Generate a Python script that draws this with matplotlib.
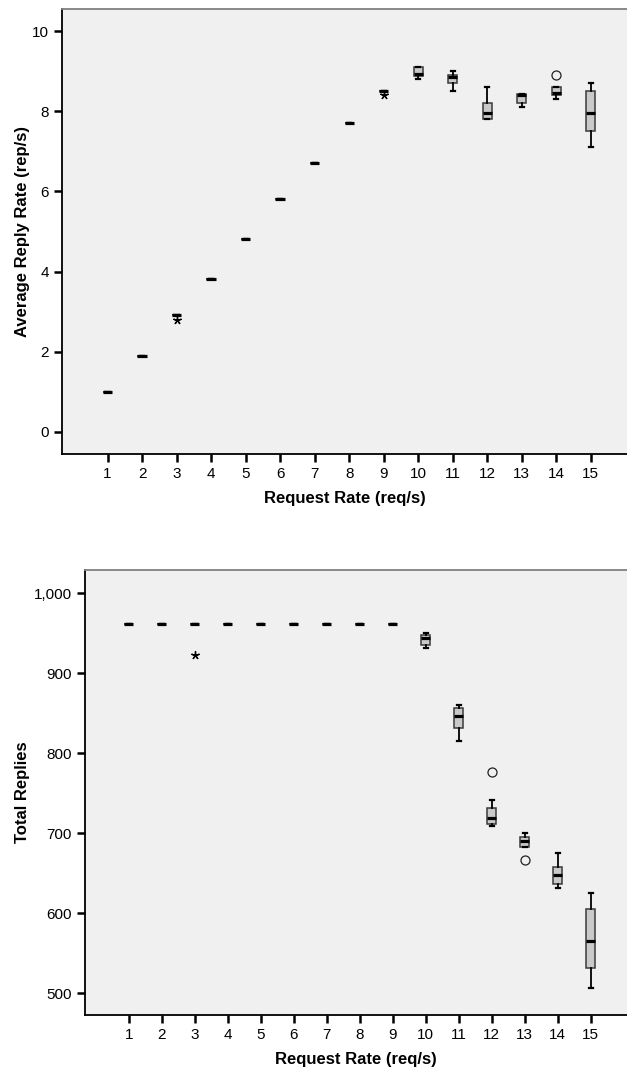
import matplotlib.pyplot as plt
from matplotlib.ticker import FuncFormatter

plt.rcParams['font.family'] = ['Liberation Sans', 'DejaVu Sans']

rates = list(range(1, 16))

# Average reply rate (rep/s) per request rate
rep_med = [1.0, 1.9, 2.92, 3.81, 4.81, 5.8, 6.7, 7.7, 8.51, 8.94, 8.86, 7.95, 8.40, 8.45, 7.96]
rep_q1 = [1.0, 1.9, 2.92, 3.81, 4.81, 5.8, 6.7, 7.7, 8.51, 8.89, 8.70, 7.80, 8.20, 8.40, 7.51]
rep_q3 = [1.0, 1.9, 2.92, 3.81, 4.81, 5.8, 6.7, 7.7, 8.51, 9.10, 8.91, 8.20, 8.42, 8.60, 8.50]
rep_lo = [1.0, 1.9, 2.92, 3.81, 4.81, 5.8, 6.7, 7.7, 8.51, 8.80, 8.50, 7.80, 8.10, 8.30, 7.10]
rep_hi = [1.0, 1.9, 2.92, 3.81, 4.81, 5.8, 6.7, 7.7, 8.51, 9.10, 9.00, 8.61, 8.42, 8.60, 8.71]
rep_circles = {14: [8.90]}
rep_stars = {3: [2.79], 9: [8.40]}

# Total replies per request rate
tot_med = [962, 962, 962, 962, 962, 962, 962, 962, 962, 944, 846, 719, 691, 648, 566]
tot_q1 = [962, 962, 962, 962, 962, 962, 962, 962, 962, 935, 832, 712, 683, 637, 532]
tot_q3 = [962, 962, 962, 962, 962, 962, 962, 962, 962, 948, 856, 732, 695, 658, 605]
tot_lo = [962, 962, 962, 962, 962, 962, 962, 962, 962, 932, 815, 709, 683, 632, 507]
tot_hi = [962, 962, 962, 962, 962, 962, 962, 962, 962, 950, 860, 742, 700, 675, 625]
tot_circles = {12: [777], 13: [667]}
tot_stars = {3: [923]}


def draw_boxes(ax, med, q1, q3, lo, hi, circles, stars, width):
    stats = []
    for i, r in enumerate(rates):
        stats.append(dict(med=med[i], q1=q1[i], q3=q3[i], whislo=lo[i],
                          whishi=hi[i], fliers=[]))
    ax.bxp(stats, positions=rates, widths=width, capwidths=width * 0.45,
           showfliers=False, patch_artist=True,
           boxprops=dict(facecolor='#c9c9c9', edgecolor='#3a3a3a', linewidth=1.1),
           medianprops=dict(color='black', linewidth=2.3, solid_capstyle='butt'),
           whiskerprops=dict(color='black', linewidth=1.3),
           capprops=dict(color='black', linewidth=1.6))
    for r, vals in circles.items():
        ax.plot([r] * len(vals), vals, 'o', mfc='none', mec='#222222',
                ms=6.5, mew=0.9, zorder=5)
    # extreme values drawn as small five-armed asterisks
    for r, vals in stars.items():
        ax.plot([r] * len(vals), vals, marker=(5, 2, 0), ls='none',
                color='black', ms=6, mew=1.0, zorder=5)


def style_axes(ax):
    ax.set_facecolor('#f0f0f0')
    ax.spines['right'].set_visible(False)
    ax.spines['top'].set_color('#808080')
    ax.spines['left'].set_linewidth(1.3)
    ax.spines['bottom'].set_linewidth(1.3)
    ax.spines['top'].set_linewidth(1.3)
    ax.set_xticks(rates)
    ax.set_xticklabels([str(r) for r in rates])
    ax.tick_params(axis='both', direction='out', length=6, width=1.8,
                   labelsize=11, colors='black')
    ax.set_xlabel('Request Rate (req/s)', fontsize=12, fontweight='bold',
                  labelpad=7)


fig = plt.figure(figsize=(6.27, 10.70), dpi=100)

ax1 = fig.add_axes([0.0989, 0.5757, 0.9011, 0.4159])
draw_boxes(ax1, rep_med, rep_q1, rep_q3, rep_lo, rep_hi, rep_circles, rep_stars, 0.27)
style_axes(ax1)
ax1.set_xlim(-0.32, 16.05)
ax1.set_ylim(-0.55, 10.55)
ax1.set_yticks([0, 2, 4, 6, 8, 10])
ax1.set_ylabel('Average Reply Rate (rep/s)', fontsize=12, fontweight='bold',
               labelpad=1)

ax2 = fig.add_axes([0.1356, 0.0514, 0.8644, 0.4159])
draw_boxes(ax2, tot_med, tot_q1, tot_q3, tot_lo, tot_hi, tot_circles, tot_stars, 0.27)
style_axes(ax2)
ax2.set_xlim(-0.33, 16.1)
ax2.set_ylim(473, 1029)
ax2.set_yticks([500, 600, 700, 800, 900, 1000])
ax2.yaxis.set_major_formatter(FuncFormatter(lambda v, p: f'{int(v):,}'))
ax2.set_ylabel('Total Replies', fontsize=12, fontweight='bold', labelpad=3)

fig.savefig('out.png', dpi=100, facecolor='white')
